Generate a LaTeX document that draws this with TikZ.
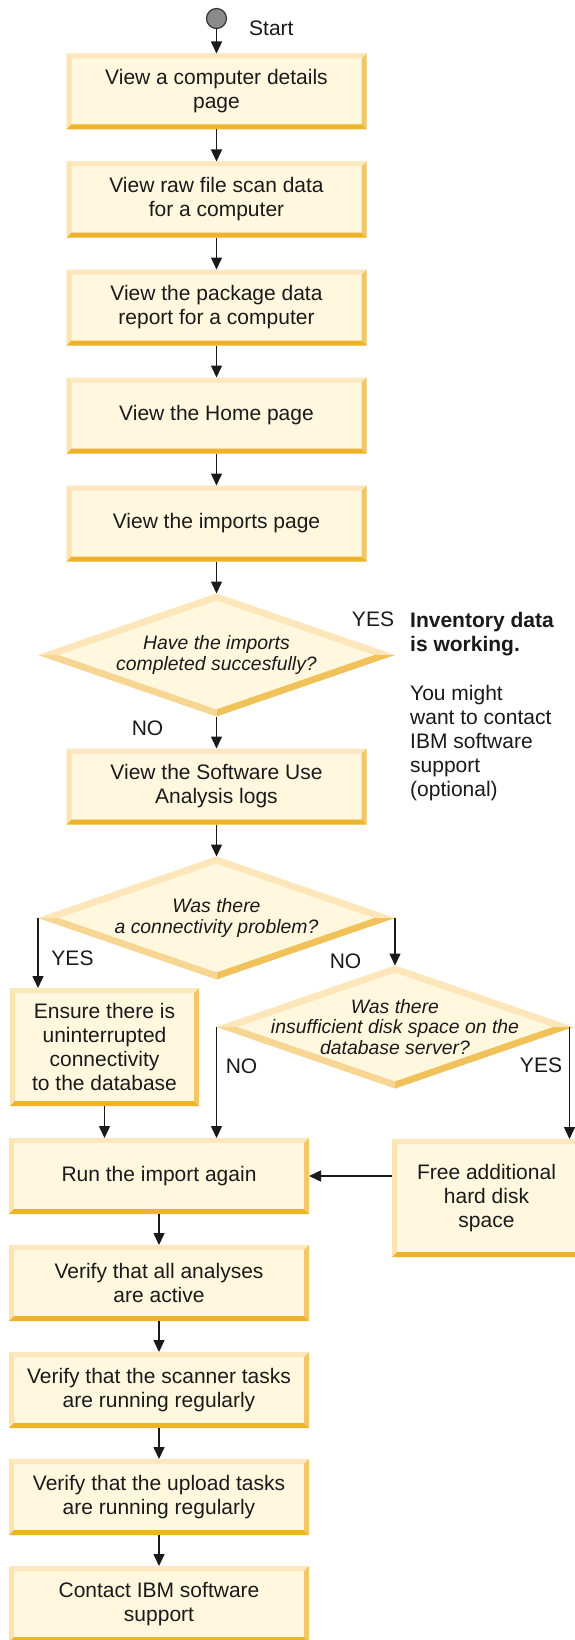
\documentclass[tikz,border=0pt]{standalone}
\usepackage{fontspec}
\setmainfont{Liberation Sans}
\usetikzlibrary{arrows.meta,positioning,calc,shapes.geometric}
\definecolor{ink}{RGB}{26,26,26}
\definecolor{cream}{RGB}{255,248,223}
\definecolor{bevtop}{RGB}{252,231,190}
\definecolor{bevleft}{RGB}{251,227,178}
\definecolor{bevright}{RGB}{243,199,101}
\definecolor{bevbot}{RGB}{237,179,43}
\definecolor{dlight}{RGB}{252,230,186}
\definecolor{dmid}{RGB}{247,213,146}
\definecolor{ddark}{RGB}{241,194,90}
\definecolor{dotgray}{RGB}{138,138,138}
\definecolor{dotline}{RGB}{55,55,55}
\newcommand{\ppbb}{path picture bounding box}
\tikzset{
  arr/.style={-{Triangle[length=12pt,width=11pt]},line width=1.5pt,draw=ink},
  lab/.style={font=\fontsize{21}{24}\selectfont,text=ink,inner sep=0pt},
  dot/.style={circle,fill=dotgray,draw=dotline,line width=1.2pt,minimum size=20pt,inner sep=0pt,outer sep=0pt},
  stepbox/.style={lab,rectangle,fill=cream,minimum width=300pt,minimum height=76pt,align=center,outer sep=0pt,
    path picture={
      \fill[bevtop] (\ppbb.north west)--(\ppbb.north east)--([shift={(-5pt,-5pt)}]\ppbb.north east)--([shift={(5pt,-5pt)}]\ppbb.north west)--cycle;
      \fill[bevleft] (\ppbb.north west)--([shift={(5pt,-5pt)}]\ppbb.north west)--([shift={(5pt,5pt)}]\ppbb.south west)--(\ppbb.south west)--cycle;
      \fill[bevright] (\ppbb.north east)--([shift={(-5pt,-5pt)}]\ppbb.north east)--([shift={(-5pt,5pt)}]\ppbb.south east)--(\ppbb.south east)--cycle;
      \fill[bevbot] (\ppbb.south west)--([shift={(5pt,5pt)}]\ppbb.south west)--([shift={(-5pt,5pt)}]\ppbb.south east)--(\ppbb.south east)--cycle;
    }},
  sidebox/.style={stepbox,minimum width=189pt,minimum height=118pt},
  ask/.style={diamond,fill=cream,minimum width=357pt,minimum height=123pt,inner sep=0pt,outer sep=0pt,
    path picture={
      \fill[dlight] (\ppbb.west)--(\ppbb.north)--($(\ppbb.center)!.885!(\ppbb.north)$)--($(\ppbb.center)!.885!(\ppbb.west)$)--cycle;
      \fill[dlight] (\ppbb.north)--(\ppbb.east)--($(\ppbb.center)!.885!(\ppbb.east)$)--($(\ppbb.center)!.885!(\ppbb.north)$)--cycle;
      \fill[ddark] (\ppbb.east)--(\ppbb.south)--($(\ppbb.center)!.885!(\ppbb.south)$)--($(\ppbb.center)!.885!(\ppbb.east)$)--cycle;
      \fill[dmid] (\ppbb.south)--(\ppbb.west)--($(\ppbb.center)!.885!(\ppbb.west)$)--($(\ppbb.center)!.885!(\ppbb.south)$)--cycle;
    }},
  qtext/.style={font=\fontsize{19.4}{20.5}\selectfont\itshape,text=ink,align=center}
}

\begin{document}
\begin{tikzpicture}[x=1pt,y=-1pt,node distance=32pt]
  \fill[white] (0,0) rectangle (575,1640);
  \useasboundingbox (0,0) rectangle (575,1640);

  \node[dot] (start) at (216.5,18.5) {};
  \node[lab,anchor=west] (starttxt) at (249,28) {Start};
  \node[stepbox,below=25pt of start] (details) {View a computer details\\page};
  \node[stepbox,below=of details] (rawscan) {View raw file scan data\\for a computer};
  \node[stepbox,below=of rawscan] (package) {View the package data\\report for a computer};
  \node[stepbox,below=of package] (home) {View the Home page};
  \node[stepbox,below=of home] (imports) {View the imports page};
  \node[ask,below=of imports,label={[name=q1,qtext]center:Have the imports\\completed succesfully?}] (done) {};
  \node[stepbox,below=of done] (logs) {View the Software Use\\Analysis logs};
  \node[ask,below=of logs,label={[name=q2,qtext]center:Was there\\a connectivity problem?}] (conn) {};
  \node[ask,below=47.5pt of conn.east,label={[name=q3,qtext]center:Was there\\insufficient disk space on the\\database server?}] (disk) {};
  \node[sidebox,anchor=north] (ensure) at (104.5,988) {Ensure there is\\uninterrupted\\connectivity\\to the database};
  \node[sidebox] (free) at (486.5,1198) {Free additional\\hard disk\\space};
  \node[stepbox] (again) at (159,1176) {Run the import again};
  \node[stepbox,below=31pt of again] (analyses) {Verify that all analyses\\are active};
  \node[stepbox,below=31pt of analyses] (scanner) {Verify that the scanner tasks\\are running regularly};
  \node[stepbox,below=31pt of scanner] (upload) {Verify that the upload tasks\\are running regularly};
  \node[stepbox,below=31pt of upload] (contact) {Contact IBM software\\support};

  \node[lab] (yes1) at (373,619) {YES};
  \node[lab,anchor=north west,align=left] (inv) at (410,612) {\textbf{Inventory data}\\\textbf{is working.}\\[25pt]You might\\want to contact\\IBM software\\support\\(optional)};
  \node[lab] (no1) at (147.5,728) {NO};
  \node[lab] (yes2) at (72.5,958) {YES};
  \node[lab] (no2) at (345.5,961) {NO};
  \node[lab] (no3) at (241.5,1066) {NO};
  \node[lab] (yes3) at (541,1065) {YES};

  \draw[arr] (start)--(details);
  \draw[arr] (details)--(rawscan);
  \draw[arr] (rawscan)--(package);
  \draw[arr] (package)--(home);
  \draw[arr] (home)--(imports);
  \draw[arr] (imports)--(done);
  \draw[arr] (done)--(logs);
  \draw[arr] (logs)--(conn);
  \draw[arr] (conn.west)--(conn.west |- ensure.north);
  \draw[arr] (conn.east)--(disk);
  \draw[arr] (ensure.south)--(ensure.south |- again.north);
  \draw[arr] (disk.west)--(disk.west |- again.north);
  \draw[arr] ([xshift=-4pt]disk.east)--([xshift=-4pt]disk.east |- free.north);
  \draw[arr] (free.west |- again.east)--(again.east);
  \draw[arr] (again)--(analyses);
  \draw[arr] (analyses)--(scanner);
  \draw[arr] (scanner)--(upload);
  \draw[arr] (upload)--(contact);
\end{tikzpicture}
\end{document}
